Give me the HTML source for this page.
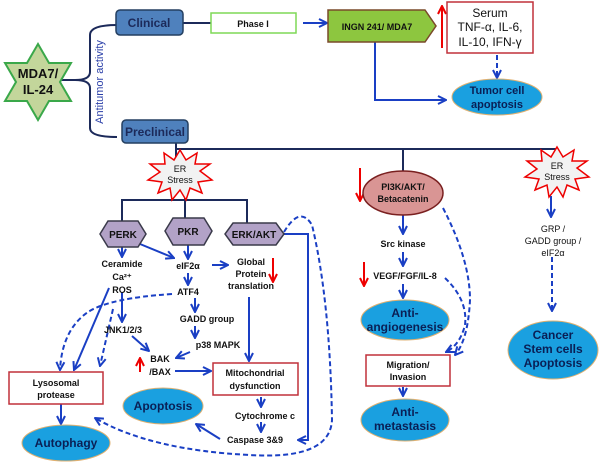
<!DOCTYPE html>
<html><head><meta charset="utf-8"><style>
html,body{margin:0;padding:0;background:#fff}
svg{display:block}
text{font-family:"Liberation Sans",sans-serif;font-weight:bold;fill:#111}
</style></head><body>
<svg width="600" height="465" viewBox="0 0 600 465" xmlns="http://www.w3.org/2000/svg">
<defs>
<marker id="a" viewBox="0 0 10 10" refX="9" refY="5" markerWidth="5" markerHeight="5" orient="auto-start-reverse"><path d="M1,1 L9,5 L1,9" fill="none" stroke="#1a3fc4" stroke-width="2"/></marker>
<marker id="r" viewBox="0 0 10 10" refX="9" refY="5" markerWidth="5" markerHeight="5" orient="auto"><path d="M1,1 L9,5 L1,9" fill="none" stroke="#e00" stroke-width="2"/></marker>
</defs>
<g stroke="#1a3fc4" stroke-width="2" fill="none" marker-end="url(#a)">
<!-- top -->
<line x1="303" y1="23" x2="327" y2="23"/>
<polyline points="375,36 375,100 446,100"/>
<!-- left tree -->
<line x1="122" y1="247" x2="122" y2="257"/>
<line x1="140" y1="244" x2="174" y2="258"/>
<line x1="188" y1="245" x2="188" y2="259"/>
<line x1="212" y1="265" x2="228" y2="265"/>
<line x1="188" y1="273" x2="188" y2="285"/>
<line x1="195" y1="298" x2="195" y2="312"/>
<line x1="195" y1="326" x2="195" y2="338"/>
<line x1="122" y1="292" x2="122" y2="322"/>
<line x1="109" y1="288" x2="74" y2="370"/>
<line x1="132" y1="336" x2="149" y2="351"/>
<line x1="190" y1="352" x2="176" y2="358"/>
<line x1="175" y1="371" x2="211" y2="371"/>
<line x1="249" y1="297" x2="249" y2="361"/>
<line x1="261" y1="397" x2="261" y2="407"/>
<line x1="261" y1="422" x2="261" y2="432"/>
<line x1="220" y1="439" x2="196" y2="424"/>
<line x1="61" y1="404" x2="61" y2="424"/>
<polyline points="283,234 308,234 308,440 298,440"/>
<!-- middle -->
<line x1="403" y1="215" x2="403" y2="234"/>
<line x1="403" y1="252" x2="403" y2="266"/>
<line x1="403" y1="284" x2="403" y2="298"/>
<line x1="403" y1="387" x2="403" y2="396"/>
<line x1="551" y1="196" x2="551" y2="217"/>
</g>
<g stroke="#1a3fc4" stroke-width="2" fill="none" stroke-dasharray="5,3" marker-end="url(#a)">
<line x1="497" y1="55" x2="497" y2="78"/>
<path d="M172,294 Q110,298 88,312 Q62,330 60,370"/>
<line x1="113" y1="309" x2="100" y2="366"/>
<path d="M284,232 Q300,205 312,225 Q330,300 332,420 Q330,460 250,455 Q150,450 95,418"/>
<path d="M443,208 Q470,260 470,300 Q468,340 455,355"/>
<path d="M445,278 Q468,300 465,325 Q460,345 446,352"/>
<line x1="552" y1="257" x2="552" y2="311"/>
</g>
<!-- navy connectors -->
<g stroke="#1c2a5a" stroke-width="2" fill="none">
<line x1="183" y1="23" x2="211" y2="23"/>
<path d="M117,25 Q90,25 90,35 L90,72 Q90,80 75,80 Q90,80 90,88 L90,128 Q90,137 117,137"/>
<line x1="61" y1="80" x2="75" y2="80"/>
<line x1="176" y1="143" x2="176" y2="162"/>
<polyline points="176,149 557,149 557,158"/>
<line x1="403" y1="149" x2="403" y2="171"/>
<line x1="185" y1="190" x2="185" y2="218"/>
<polyline points="122,221 122,200 247,200 247,224"/>
</g>
<!-- star -->
<polygon points="38,44 49,63 71,63 60,82 71,101 49,101 38,120 27,101 5,101 16,82 5,63 27,63" fill="#c3d69b" stroke="#3aa84a" stroke-width="2"/>
<text x="38" y="78" font-size="13" text-anchor="middle">MDA7/</text>
<text x="38" y="94" font-size="13" text-anchor="middle">IL-24</text>
<text transform="translate(103,82) rotate(-90)" font-size="11" text-anchor="middle" style="font-weight:normal;fill:#2a3fa8">Antitumor activity</text>
<!-- Clinical/Preclinical -->
<rect x="116" y="10" width="67" height="25" rx="4" fill="#4f81bd" stroke="#243f60" stroke-width="1.5"/>
<text x="149" y="27" font-size="12" text-anchor="middle" style="fill:#1c2a5a">Clinical</text>
<rect x="122" y="120" width="66" height="23" rx="4" fill="#4f81bd" stroke="#243f60" stroke-width="1.5"/>
<text x="155" y="136" font-size="12" text-anchor="middle" style="fill:#1c2a5a">Preclinical</text>
<rect x="211" y="13" width="85" height="20" fill="#fff" stroke="#7ed957" stroke-width="1.5"/>
<text x="253" y="27" font-size="9" text-anchor="middle">Phase I</text>
<polygon points="328,10 425,10 436,26 425,42 328,42" fill="#8dc63f" stroke="#7a4a2a" stroke-width="1.5"/>
<text x="377" y="30" font-size="9" text-anchor="middle">INGN 241/ MDA7</text>
<line x1="442" y1="48" x2="442" y2="6" stroke="#e00" stroke-width="2" marker-end="url(#r)"/>
<rect x="447" y="2" width="86" height="51" fill="#fff" stroke="#c0303a" stroke-width="1.5"/>
<g style="font-weight:normal" font-size="12" text-anchor="middle"><text x="490" y="17" style="font-weight:normal">Serum</text><text x="490" y="31" style="font-weight:normal">TNF-α, IL-6,</text><text x="490" y="46" style="font-weight:normal">IL-10, IFN-γ</text></g>
<ellipse cx="497" cy="97" rx="45" ry="18" fill="#1aa0e0" stroke="#e0b070"/>
<text x="497" y="94" font-size="11" text-anchor="middle" style="fill:#0a1f55">Tumor cell</text>
<text x="497" y="108" font-size="11" text-anchor="middle" style="fill:#0a1f55">apoptosis</text>
<!-- ER stress stars -->
<polygon points="180,150 186,160 197,153 195,164 210,164 200,171 212,180 198,182 202,193 190,188 186,200 180,190 172,200 170,188 158,193 162,182 148,180 160,172 150,164 165,164 164,153 174,160" fill="#f2f2f2" stroke="#e00" stroke-width="1.5"/>
<text x="180" y="172" font-size="9" text-anchor="middle" style="font-weight:normal">ER</text>
<text x="180" y="183" font-size="9" text-anchor="middle" style="font-weight:normal">Stress</text>
<polygon points="557,147 563,157 574,150 572,161 587,161 577,168 589,177 575,179 579,190 567,185 563,197 557,187 549,197 547,185 535,190 539,179 525,177 537,169 527,161 542,161 541,150 551,157" fill="#f2f2f2" stroke="#e00" stroke-width="1.5"/>
<text x="557" y="169" font-size="9" text-anchor="middle" style="font-weight:normal">ER</text>
<text x="557" y="180" font-size="9" text-anchor="middle" style="font-weight:normal">Stress</text>
<!-- hexagons -->
<g fill="#b2a2c7" stroke="#3a3a4a" stroke-width="1.5">
<polygon points="108,221 138,221 146,234 138,247 108,247 100,234"/>
<polygon points="173,218 204,218 212,231 204,245 173,245 165,231"/>
<polygon points="233,223 276,223 284,234 276,245 233,245 225,234"/>
</g>
<text x="123" y="238" font-size="10" text-anchor="middle">PERK</text>
<text x="188" y="235" font-size="10" text-anchor="middle">PKR</text>
<text x="254" y="238" font-size="10" text-anchor="middle">ERK/AKT</text>
<g font-size="9" text-anchor="middle">
<text x="122" y="267">Ceramide</text>
<text x="122" y="280">Ca²⁺</text>
<text x="122" y="293">ROS</text>
<text x="188" y="269">eIF2α</text>
<text x="188" y="295">ATF4</text>
<text x="207" y="322">GADD  group</text>
<text x="218" y="348">p38  MAPK</text>
<text x="251" y="265">Global</text>
<text x="251" y="277">Protein</text>
<text x="251" y="289">translation</text>
<text x="123" y="333">JNK1/2/3</text>
<text x="160" y="362">BAK</text>
<text x="160" y="375">/BAX</text>
<text x="265" y="419">Cytochrome c</text>
<text x="255" y="443">Caspase 3&amp;9</text>
<text x="403" y="247">Src kinase</text>
<text x="405" y="279">VEGF/FGF/IL-8</text>
<text x="553" y="232" style="font-weight:normal">GRP /</text>
<text x="553" y="244" style="font-weight:normal">GADD group /</text>
<text x="553" y="256" style="font-weight:normal">eIF2α</text>
</g>
<g stroke="#e00" stroke-width="2" marker-end="url(#r)">
<line x1="273" y1="258" x2="273" y2="282"/>
<line x1="140" y1="372" x2="140" y2="358"/>
<line x1="360" y1="168" x2="360" y2="201"/>
<line x1="364" y1="262" x2="364" y2="286"/>
</g>
<!-- boxes -->
<rect x="213" y="363" width="85" height="32" fill="#fff" stroke="#c0303a" stroke-width="1.5"/>
<text x="255" y="376" font-size="9" text-anchor="middle">Mitochondrial</text>
<text x="255" y="389" font-size="9" text-anchor="middle">dysfunction</text>
<rect x="9" y="372" width="94" height="32" fill="#fff" stroke="#c0303a" stroke-width="1.5"/>
<text x="56" y="386" font-size="9" text-anchor="middle">Lysosomal</text>
<text x="56" y="398" font-size="9" text-anchor="middle">protease</text>
<rect x="366" y="355" width="84" height="31" fill="#fff" stroke="#c0303a" stroke-width="1.5"/>
<text x="408" y="368" font-size="9" text-anchor="middle">Migration/</text>
<text x="408" y="380" font-size="9" text-anchor="middle">Invasion</text>
<ellipse cx="403" cy="193" rx="40" ry="22" fill="#d99594" stroke="#7a2020" stroke-width="1.5"/>
<text x="403" y="190" font-size="9" text-anchor="middle">PI3K/AKT/</text>
<text x="403" y="202" font-size="9" text-anchor="middle">Betacatenin</text>
<!-- ellipses -->
<g fill="#1aa0e0" stroke="#e0b070">
<ellipse cx="66" cy="443" rx="44" ry="18"/>
<ellipse cx="163" cy="406" rx="40" ry="18"/>
<ellipse cx="405" cy="320" rx="44" ry="20"/>
<ellipse cx="405" cy="420" rx="44" ry="21"/>
<ellipse cx="553" cy="350" rx="45" ry="29"/>
</g>
<g font-size="12" text-anchor="middle" style="fill:#0a1f55">
<text x="66" y="447" style="fill:#0a1f55">Autophagy</text>
<text x="163" y="410" style="fill:#0a1f55">Apoptosis</text>
<text x="405" y="317" style="fill:#0a1f55">Anti-</text>
<text x="405" y="331" style="fill:#0a1f55">angiogenesis</text>
<text x="405" y="416" style="fill:#0a1f55">Anti-</text>
<text x="405" y="430" style="fill:#0a1f55">metastasis</text>
<text x="553" y="339" style="fill:#0a1f55">Cancer</text>
<text x="553" y="353" style="fill:#0a1f55">Stem cells</text>
<text x="553" y="367" style="fill:#0a1f55">Apoptosis</text>
</g>
</svg>
</body></html>
